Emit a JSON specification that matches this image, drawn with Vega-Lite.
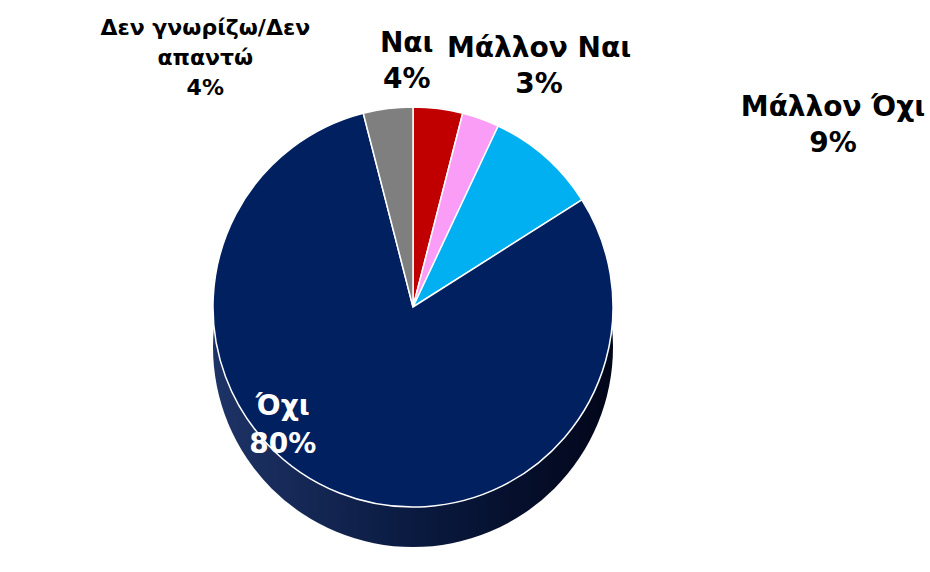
{
  "$schema": "https://vega.github.io/schema/vega-lite/v6.json",
  "autosize": {"type": "none"},
  "width": 826,
  "height": 530,
  "padding": {"left": 0, "right": 104, "top": 42, "bottom": 0},
  "background": "white",
  "view": {"stroke": null},
  "data": {"values": [
    {"category": "Ναι", "value": 4, "order": 1, "label": "Ναι\n4%"},
    {"category": "Μάλλον Ναι", "value": 3, "order": 2, "label": "Μάλλον Ναι\n3%"},
    {"category": "Μάλλον Όχι", "value": 9, "order": 3, "label": "Μάλλον Όχι\n9%"},
    {"category": "Όχι", "value": 80, "order": 4, "label": "Όχι\n80%"},
    {"category": "Δεν γνωρίζω/Δεν απαντώ", "value": 4, "order": 5, "label": "Δεν γνωρίζω/Δεν\nαπαντώ\n4%"}
  ]},
  "layer": [
    {
      "mark": {"type": "arc", "outerRadius": 200, "yOffset": 40,
        "color": {"gradient": "linear", "x1": 0, "y1": 0, "x2": 1, "y2": 0,
          "stops": [{"offset": 0, "color": "#1E3366"}, {"offset": 0.5, "color": "#0A1A40"}, {"offset": 1, "color": "#02061A"}]}},
      "encoding": {"theta": {"aggregate": "sum", "field": "value", "type": "quantitative"}}
    },
    {
      "mark": {"type": "arc", "outerRadius": 200, "stroke": "#ffffff", "strokeWidth": 1.5},
      "encoding": {
        "theta": {"field": "value", "type": "quantitative", "stack": true},
        "order": {"field": "order", "type": "quantitative"},
        "color": {"field": "category", "type": "nominal", "legend": null,
          "scale": {"domain": ["Ναι", "Μάλλον Ναι", "Μάλλον Όχι", "Όχι", "Δεν γνωρίζω/Δεν απαντώ"],
            "range": ["#C00000", "#FA9DF7", "#00B0F0", "#002060", "#7F7F7F"]}}
      }
    },
    {
      "mark": {"type": "text", "radius": 245, "dx": -37, "dy": -20, "font": "DejaVu Sans", "fontWeight": "bold", "fontSize": 28, "lineBreak": "\n", "lineHeight": 36, "color": "#000000"},
      "encoding": {
        "theta": {"field": "value", "type": "quantitative", "stack": true},
        "order": {"field": "order", "type": "quantitative"},
        "detail": {"field": "category", "type": "nominal"},
        "text": {"condition": {"test": "datum.category === 'Ναι'", "field": "label", "type": "nominal"}, "value": ""}
      }
    },
    {
      "mark": {"type": "text", "radius": 245, "dx": 43, "dy": -27, "font": "DejaVu Sans", "fontWeight": "bold", "fontSize": 28, "lineBreak": "\n", "lineHeight": 36, "color": "#000000"},
      "encoding": {
        "theta": {"field": "value", "type": "quantitative", "stack": true},
        "order": {"field": "order", "type": "quantitative"},
        "detail": {"field": "category", "type": "nominal"},
        "text": {"condition": {"test": "datum.category === 'Μάλλον Ναι'", "field": "label", "type": "nominal"}, "value": ""}
      }
    },
    {
      "mark": {"type": "text", "radius": 245, "dx": 258, "dy": -15, "font": "DejaVu Sans", "fontWeight": "bold", "fontSize": 28, "lineBreak": "\n", "lineHeight": 36, "color": "#000000"},
      "encoding": {
        "theta": {"field": "value", "type": "quantitative", "stack": true},
        "order": {"field": "order", "type": "quantitative"},
        "detail": {"field": "category", "type": "nominal"},
        "text": {"condition": {"test": "datum.category === 'Μάλλον Όχι'", "field": "label", "type": "nominal"}, "value": ""}
      }
    },
    {
      "mark": {"type": "text", "radius": 120, "dx": -86, "dy": -12, "font": "DejaVu Sans", "fontWeight": "bold", "fontSize": 28, "lineBreak": "\n", "lineHeight": 38, "color": "#ffffff"},
      "encoding": {
        "theta": {"field": "value", "type": "quantitative", "stack": true},
        "order": {"field": "order", "type": "quantitative"},
        "detail": {"field": "category", "type": "nominal"},
        "text": {"condition": {"test": "datum.category === 'Όχι'", "field": "label", "type": "nominal"}, "value": ""}
      }
    },
    {
      "mark": {"type": "text", "radius": 245, "dx": -177, "dy": -36, "font": "DejaVu Sans", "fontWeight": "bold", "fontSize": 22, "lineBreak": "\n", "lineHeight": 30, "color": "#000000"},
      "encoding": {
        "theta": {"field": "value", "type": "quantitative", "stack": true},
        "order": {"field": "order", "type": "quantitative"},
        "detail": {"field": "category", "type": "nominal"},
        "text": {"condition": {"test": "datum.category === 'Δεν γνωρίζω/Δεν απαντώ'", "field": "label", "type": "nominal"}, "value": ""}
      }
    }
  ]
}
